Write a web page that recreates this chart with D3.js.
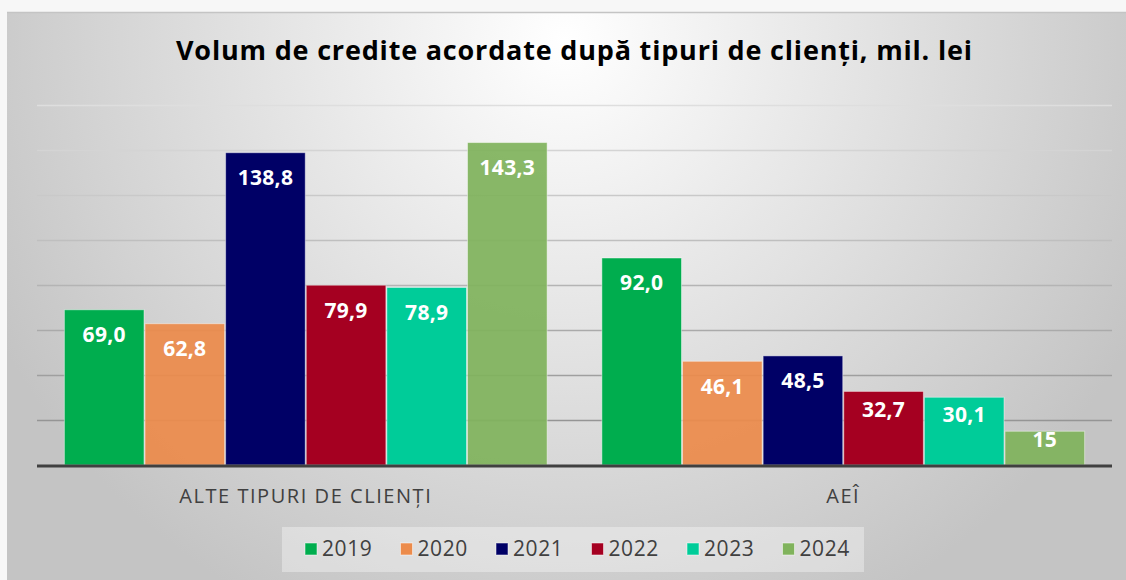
<!DOCTYPE html>
<html>
<head>
<meta charset="utf-8">
<script src="https://cdn.jsdelivr.net/npm/d3@7"></script>
<style>
  body { margin: 0; background: #f7f7f7; }
  svg { display: block; font-family: "Open Sans", Lato, sans-serif; }
</style>
</head>
<body>
<div id="chart"></div>
<script>
// Chart data
const categories = ["ALTE TIPURI DE CLIENȚI", "AEÎ"];
const years = ["2019", "2020", "2021", "2022", "2023", "2024"];
const valuesAlte = [69.0, 62.8, 138.8, 79.9, 78.9, 143.3];
const valuesAEI = [92.0, 46.1, 48.5, 32.7, 30.1, 15];
const labelsAlte = ["69,0", "62,8", "138,8", "79,9", "78,9", "143,3"];
const labelsAEI = ["92,0", "46,1", "48,5", "32,7", "30,1", "15"];
const yTicks = [0, 20, 40, 60, 80, 100, 120, 140, 160];
const colors = ["#00ad4e", "#ec8b4b", "#000066", "#a50021", "#00cc99", "#80b35c"];

const W = 1126, H = 580;
const margin = { top: 105, right: 14, bottom: 115, left: 37 };

const svg = d3.select("#chart").append("svg")
  .attr("width", W)
  .attr("height", H);

// background gradient of the chart area
const defs = svg.append("defs");
const grad = defs.append("radialGradient")
  .attr("id", "bgGrad")
  .attr("gradientUnits", "userSpaceOnUse")
  .attr("cx", 565).attr("cy", 40).attr("r", 640);
grad.append("stop").attr("offset", "0%").attr("stop-color", "#ffffff");
grad.append("stop").attr("offset", "100%").attr("stop-color", "#c4c4c4");

svg.append("rect")
  .attr("x", 7).attr("y", 12)
  .attr("width", W - 7).attr("height", H - 12)
  .attr("fill", "url(#bgGrad)");
svg.append("line")
  .attr("x1", 7).attr("x2", W).attr("y1", 12.5).attr("y2", 12.5)
  .attr("stroke", "#c4c4c4").attr("stroke-width", 1.5);

// Title
svg.append("text")
  .attr("x", 574).attr("y", 60)
  .attr("text-anchor", "middle")
  .attr("textLength", 796)
  .attr("lengthAdjust", "spacing")
  .style("font-size", "27px")
  .style("font-weight", "bold")
  .attr("fill", "#000")
  .text("Volum de credite acordate după tipuri de clienți, mil. lei");

const width = W - margin.left - margin.right;
const height = H - margin.top - margin.bottom;

const g = svg.append("g")
  .attr("transform", "translate(" + margin.left + "," + margin.top + ")");

const y = d3.scaleLinear().domain([0, 160]).range([height, 0]);
const x0 = d3.scaleBand().domain(categories).range([0, width])
  .paddingInner(0.1).paddingOuter(0.05);
const x1 = d3.scaleBand().domain(years).range([0, x0.bandwidth()]);

// gridlines, lighter towards the top
const gridColor = d3.interpolateRgb("#8a8a8a", "#dedede");
g.selectAll(".grid")
  .data(yTicks.slice(1))
  .join("line")
  .attr("class", "grid")
  .attr("x1", 0).attr("x2", width)
  .attr("y1", d => Math.round(y(d)) + 0.5)
  .attr("y2", d => Math.round(y(d)) + 0.5)
  .attr("stroke", d => gridColor(d / 160))
  .attr("stroke-width", 1.3);

const rows = [
  { cat: categories[0], values: valuesAlte, labels: labelsAlte },
  { cat: categories[1], values: valuesAEI, labels: labelsAEI }
];

const groups = g.selectAll(".group")
  .data(rows)
  .join("g")
  .attr("class", "group")
  .attr("transform", d => "translate(" + x0(d.cat) + ",0)");

const bars = groups.selectAll(".bar")
  .data(d => d.values.map((v, i) => ({ year: years[i], value: v, label: d.labels[i], i: i })))
  .join("g")
  .attr("class", "bar");

bars.append("rect")
  .attr("x", d => x1(d.year) + 0.5)
  .attr("y", d => y(d.value))
  .attr("width", x1.bandwidth() - 1)
  .attr("height", d => height - y(d.value))
  .attr("fill", d => colors[d.i])
  .attr("fill-opacity", d => (d.i === 1 || d.i === 5) ? 0.93 : 1)
  .attr("stroke", "#ffffff")
  .attr("stroke-opacity", 0.45)
  .attr("stroke-width", 1);

bars.append("text")
  .attr("x", d => x1(d.year) + x1.bandwidth() / 2)
  .attr("y", d => y(d.value) + Math.min(25, (height - y(d.value)) * 0.25))
  .attr("dy", "0.35em")
  .attr("text-anchor", "middle")
  .attr("fill", "#fff")
  .style("font-size", "21px")
  .style("font-weight", "bold")
  .style("letter-spacing", "0.3px")
  .text(d => d.label);

// baseline
g.append("line")
  .attr("x1", 0).attr("x2", width)
  .attr("y1", height + 1).attr("y2", height + 1)
  .attr("stroke", "#404040").attr("stroke-width", 3);

// category axis labels
const xAxis = g.append("g")
  .attr("transform", "translate(0," + height + ")")
  .call(d3.axisBottom(x0).tickSize(0).tickPadding(24));
xAxis.select(".domain").remove();
xAxis.selectAll("text")
  .attr("fill", "#404040")
  .style("font-family", "'Open Sans', Lato, sans-serif")
  .style("font-size", "20px")
  .style("letter-spacing", "1.55px");

// legend
const legend = svg.append("g").attr("transform", "translate(282,527)");
legend.append("rect")
  .attr("width", 582).attr("height", 45)
  .attr("fill", "#ffffff").attr("fill-opacity", 0.35);

const item = legend.selectAll(".item")
  .data(years)
  .join("g")
  .attr("class", "item")
  .attr("transform", (d, i) => "translate(" + (23 + i * 95.5) + ",0)");
item.append("rect")
  .attr("x", 0).attr("y", 16)
  .attr("width", 12).attr("height", 12)
  .attr("fill", (d, i) => colors[i])
  .attr("stroke", "#ffffff").attr("stroke-opacity", 0.5);
item.append("text")
  .attr("x", 17).attr("y", 22)
  .attr("dy", "0.35em")
  .attr("fill", "#404040")
  .style("font-size", "21px")
  .style("letter-spacing", "0.6px")
  .text(d => d);
</script>
</body>
</html>
